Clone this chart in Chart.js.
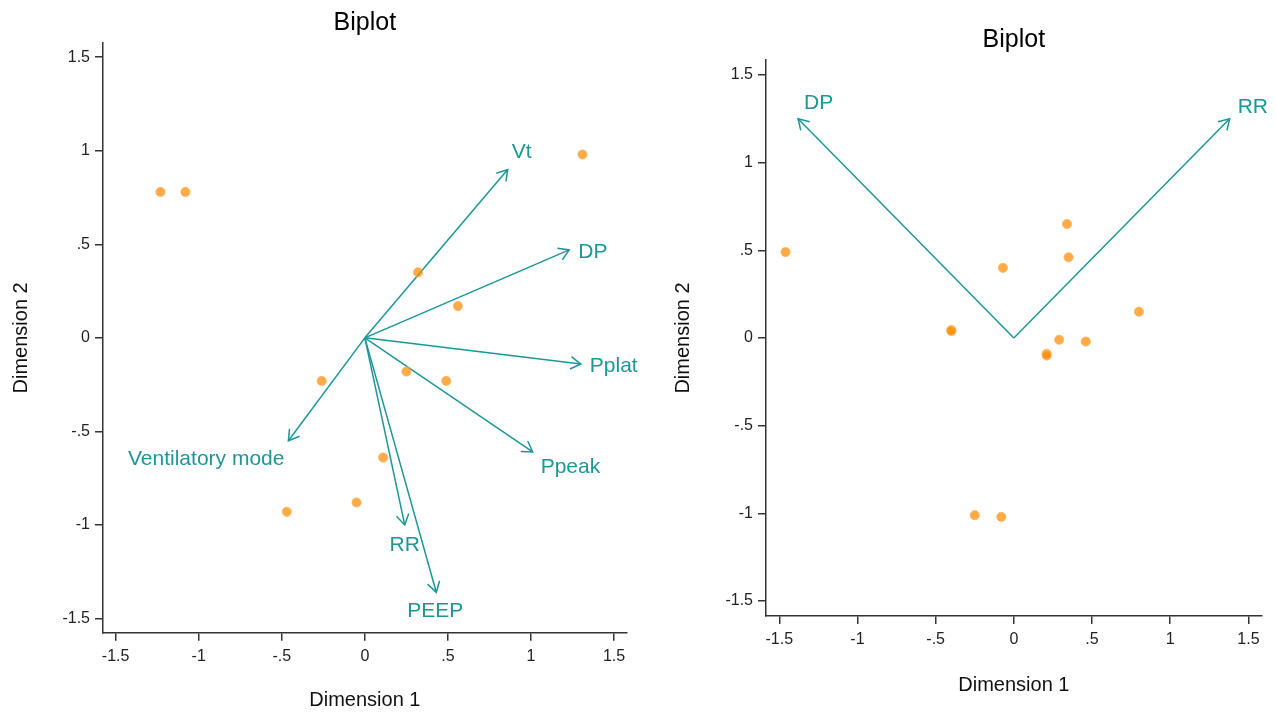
<!DOCTYPE html>
<html lang="en">
<head>
    <meta charset="UTF-8">
    <title>Biplots</title>
    <style>
        body {
            margin: 0;
            background: #fff;
            font-family: 'Liberation Sans', Arial, sans-serif;
        }
        .panel {
            position: absolute;
            top: 0;
        }
    </style>
    <script src="https://cdn.jsdelivr.net/npm/chart.js"></script>
</head>
<body>
    <div class="panel" style="left:0px"><canvas id="biplotLeft" width="640" height="715"></canvas></div>
    <div class="panel" style="left:650px"><canvas id="biplotRight" width="626" height="715"></canvas></div>
    <script>
        // tick values shared by both panels
        const tickValues = [-1.5, -1, -0.5, 0, 0.5, 1, 1.5];

        // left biplot: observation scores
        const leftScoreDim1 = [-1.23, -1.08, 1.31, 0.32, 0.56, 0.25, 0.49, -0.26, 0.11, -0.05, -0.47];
        const leftScoreDim2 = [0.78, 0.78, 0.98, 0.35, 0.17, -0.18, -0.23, -0.23, -0.64, -0.88, -0.93];
        // left biplot: variable loadings
        const leftVarNames = ['Vt', 'DP', 'Pplat', 'Ppeak', 'RR', 'PEEP', 'Ventilatory mode'];
        const leftVarDim1 = [0.86, 1.23, 1.30, 1.01, 0.24, 0.43, -0.46];
        const leftVarDim2 = [0.90, 0.47, -0.14, -0.61, -1.00, -1.36, -0.55];

        // right biplot
        const rightScoreDim1 = [-1.46, -0.40, -0.40, -0.07, 0.34, 0.35, 0.80, 0.29, 0.46, 0.21, 0.21, -0.25, -0.08];
        const rightScoreDim2 = [0.49, 0.045, 0.04, 0.40, 0.65, 0.46, 0.15, -0.01, -0.02, -0.09, -0.10, -1.01, -1.02];
        const rightVarNames = ['DP', 'RR'];
        const rightVarDim1 = [-1.38, 1.38];
        const rightVarDim2 = [1.25, 1.25];

        // label placement next to the arrow tips (pixels): [dx, dy, align]
        const leftLabelPlace = [[4, -17, 'left'], [9, 2, 'left'], [9, 2, 'left'], [8, 15, 'left'],
                                [0, 20, 'center'], [-1, 19, 'center'], [-4, 18, 'right']];
        const rightLabelPlace = [[6, -16, 'left'], [8, -12, 'left']];

        const TEAL = 'rgb(28,150,150)';
        const FONT = "'Liberation Sans', Arial, sans-serif";

        function fmtTick(v) {
            if (v === 0) return '0';
            const a = Math.abs(v);
            const s = a < 1 ? String(a).replace(/^0/, '') : String(a);
            return (v < 0 ? '-' : '') + s;
        }

        // arrowheads and variable names on top of the vectors
        const vectorDecor = {
            id: 'vectorDecor',
            afterDatasetsDraw(chart) {
                const cfg = chart.options.plugins.vectorDecor;
                const xs = chart.scales.x, ys = chart.scales.y;
                const ctx = chart.ctx;
                ctx.save();
                ctx.strokeStyle = TEAL;
                ctx.fillStyle = TEAL;
                ctx.lineWidth = 1.5;
                ctx.font = '21px ' + FONT;
                ctx.textBaseline = 'middle';
                cfg.names.forEach((name, i) => {
                    const x0 = xs.getPixelForValue(0), y0 = ys.getPixelForValue(0);
                    const x1 = xs.getPixelForValue(cfg.dim1[i]), y1 = ys.getPixelForValue(cfg.dim2[i]);
                    const ang = Math.atan2(y1 - y0, x1 - x0);
                    const len = 12, spread = 0.55;
                    ctx.beginPath();
                    ctx.moveTo(x1 - len * Math.cos(ang - spread), y1 - len * Math.sin(ang - spread));
                    ctx.lineTo(x1, y1);
                    ctx.lineTo(x1 - len * Math.cos(ang + spread), y1 - len * Math.sin(ang + spread));
                    ctx.stroke();
                    const p = cfg.place[i];
                    ctx.textAlign = p[2];
                    ctx.fillText(name, x1 + p[0], y1 + p[1]);
                });
                ctx.restore();
            }
        };

        function buildBiplot(canvasId, opts) {
            const datasets = [];
            opts.varNames.forEach((name, i) => {
                datasets.push({
                    label: name,
                    data: [{x: 0, y: 0}, {x: opts.varDim1[i], y: opts.varDim2[i]}],
                    showLine: true,
                    borderColor: TEAL,
                    borderWidth: 1.5,
                    pointRadius: 0,
                    order: 2
                });
            });
            datasets.push({
                label: 'scores',
                data: opts.scoreDim1.map((v, i) => ({x: v, y: opts.scoreDim2[i]})),
                backgroundColor: 'rgba(255,140,0,0.72)',
                borderColor: 'rgba(255,175,90,0.7)',
                borderWidth: 1,
                pointRadius: 4.6,
                order: 1
            });

            const axisBase = {
                type: 'linear',
                min: -opts.range,
                max: opts.range,
                afterBuildTicks: (s) => { s.ticks = tickValues.map(v => ({value: v})); },
                grid: {
                    display: true,
                    drawOnChartArea: false,
                    drawTicks: true,
                    tickLength: 8,
                    color: '#333',
                    lineWidth: 1.5
                },
                border: {display: true, color: '#333', width: 1.5}
            };

            return new Chart(document.getElementById(canvasId), {
                type: 'scatter',
                data: {datasets},
                options: {
                    responsive: false,
                    animation: false,
                    layout: {padding: {left: 0, right: opts.padRight, top: 0, bottom: 0}},
                    scales: {
                        x: Object.assign({}, axisBase, {
                            afterFit: (s) => { s.height = opts.xAxisHeight; },
                            ticks: {
                                callback: (v) => fmtTick(v),
                                autoSkip: false, maxRotation: 0, padding: 6,
                                color: '#222', font: {family: FONT, size: 16}
                            },
                            title: {
                                display: true, text: 'Dimension 1', color: '#111',
                                font: {family: FONT, size: 20},
                                padding: {top: 0, bottom: opts.xTitlePad}
                            }
                        }),
                        y: Object.assign({}, axisBase, {
                            afterFit: (s) => { s.width = opts.yAxisWidth; },
                            ticks: {
                                callback: (v) => fmtTick(v),
                                autoSkip: false, padding: 5,
                                color: '#222', font: {family: FONT, size: 16}
                            },
                            title: {
                                display: true, text: 'Dimension 2', color: '#111',
                                font: {family: FONT, size: 20},
                                padding: {top: opts.yTitlePad, bottom: 0}
                            }
                        })
                    },
                    plugins: {
                        legend: {display: false},
                        tooltip: {enabled: false},
                        title: {
                            display: true, text: 'Biplot', color: '#000',
                            fullSize: false,
                            font: {family: FONT, size: 25, weight: 'normal'},
                            padding: {top: opts.titlePadTop, bottom: 5}
                        },
                        vectorDecor: {
                            names: opts.varNames, dim1: opts.varDim1, dim2: opts.varDim2,
                            place: opts.labelPlace
                        }
                    }
                },
                plugins: [vectorDecor]
            });
        }

        buildBiplot('biplotLeft', {
            scoreDim1: leftScoreDim1, scoreDim2: leftScoreDim2,
            varNames: leftVarNames, varDim1: leftVarDim1, varDim2: leftVarDim2,
            labelPlace: leftLabelPlace,
            range: 1.576, padRight: 13.3, xAxisHeight: 82.3, yAxisWidth: 103,
            xTitlePad: 3, yTitlePad: 9, titlePadTop: 8
        });

        buildBiplot('biplotRight', {
            scoreDim1: rightScoreDim1, scoreDim2: rightScoreDim2,
            varNames: rightVarNames, varDim1: rightVarDim1, varDim2: rightVarDim2,
            labelPlace: rightLabelPlace,
            range: 1.585, padRight: 14.3, xAxisHeight: 99, yAxisWidth: 116,
            xTitlePad: 18, yTitlePad: 21.5, titlePadTop: 25
        });
    </script>
</body>
</html>
